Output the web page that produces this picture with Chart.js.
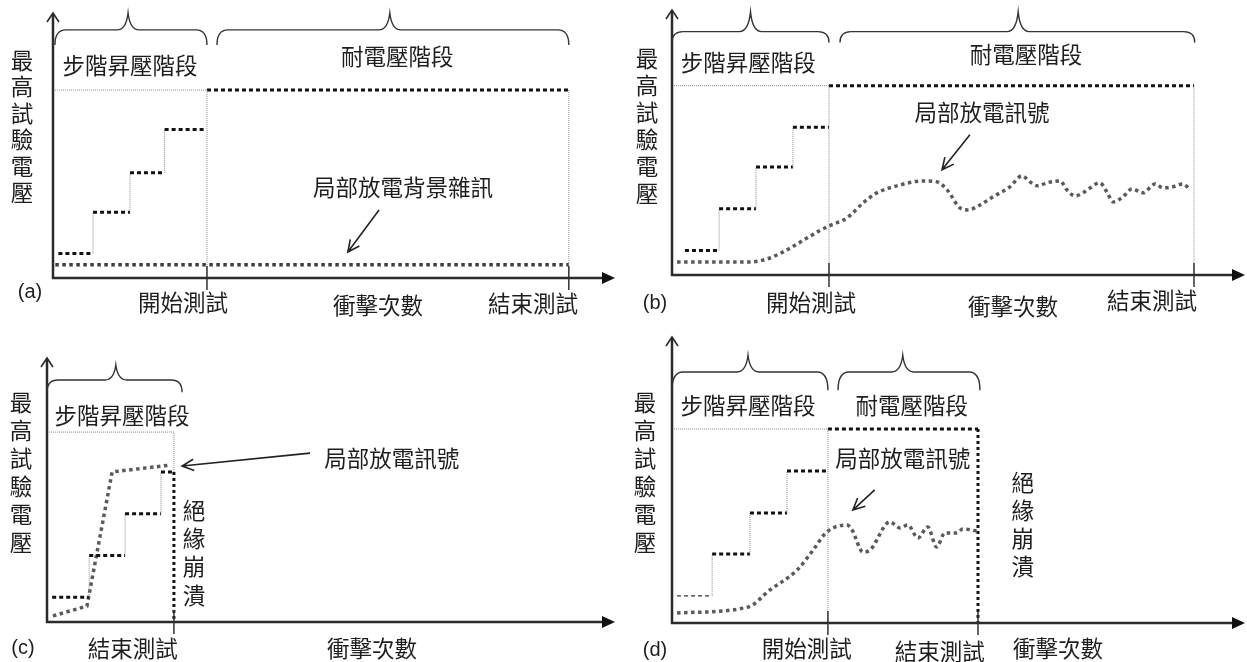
<!DOCTYPE html>
<html>
<head>
<meta charset="utf-8">
<script src="https://cdn.jsdelivr.net/npm/chart.js@4.4.1/dist/chart.umd.min.js"></script>
<style>
  html, body { margin: 0; padding: 0; background: #fff; }
  #wrap { position: relative; width: 1247px; height: 662px; overflow: hidden; background: #fff; }
  #wrap canvas { position: absolute; }
</style>
</head>
<body>
<div id="wrap">
  <canvas id="pa"></canvas>
  <canvas id="pb"></canvas>
  <canvas id="pc"></canvas>
  <canvas id="pd"></canvas>
</div>
<script>
// Voltage is given in % of the maximum test voltage; x is impulse count (arbitrary units).

// (a) no partial discharge, background noise only
const aSteps = [[1.4,13],[10.4,13],[10.4,35],[20,35],[20,56],[29,56],[29,79],[39.5,79]];
const aTest  = [[40,100],[134,100]];
const aGuide = [[0,100],[40,100],[40,0]];
const aEndGuide = [[134,100],[134,0]];
const aNoise = [[0.6,7],[134,7]];

// (b) partial discharge appears, insulation survives
const bSteps = [[3.3,13],[12,13],[12,35],[21.4,35],[21.4,57],[30.8,57],[30.8,78],[40,78]];
const bTest  = [[40,100],[133,100]];
const bGuide = [[0,100],[40,100],[40,0]];
const bEndGuide = [[133,100],[133,0]];
const bSignal = [[1.3,6.9],[19.9,6.9],[40,25.9],[44.6,30.2],[48.7,38.1],[52.2,43.4],[57.3,47.1],
  [63.9,49.7],[67.5,49.2],[70.1,45],[73.4,35.4],[75.4,34.4],[78.5,37],[81.8,41.3],[86.1,46.6],
  [89.2,52.4],[91.2,49.2],[93.2,47.1],[95.5,48.7],[98.9,49.7],[100.6,45],[102.7,41.8],[104.7,43.4],
  [106.5,46],[109,48.7],[110.8,43.9],[112.4,38.6],[114.9,41.3],[117.2,45.5],[120,43.4],[123.1,48.1],
  [125.1,46],[127.6,46.6],[130.2,48.1],[132,45]];

// (c) breakdown during the step-up stage
const cSteps = [[1.4,13],[11.4,13],[11.4,35],[21.1,35],[21.1,57],[30.8,57],[30.8,79],[34.3,79]];
const cGuide = [[0,100],[34.3,100],[34.3,79]];
const cBreak = [[34.3,79],[34.3,0]];
const cSignal = [[1.6,3.2],[10.8,8.4],[17.6,79],[33.2,82.6]];

// (d) breakdown during the withstand stage
const dSteps = [[1.3,14],[10.3,14],[10.3,35.6],[20,35.6],[20,56.7],[29.5,56.7],[29.5,78.4],[39.5,78.4]];
const dTest  = [[40,100],[78.5,100]];
const dGuide = [[0,100],[40,100],[40,0]];
const dBreak = [[78.5,100],[78.5,0]];
const dSignal = [[1.3,5.2],[19.5,8.2],[25.1,17],[32.1,27.3],[36.2,37.6],[39.7,46.9],[44.9,50.5],
  [46.2,47.9],[49,36.6],[50.8,37.6],[55.9,52.1],[58.5,49],[60.5,50.5],[63.1,43.8],[65.6,49.5],
  [67.9,39.2],[70,46.4],[73.1,46.4],[74.6,48.5],[78.2,47.4]];

// Text
const yTitle = '最高試驗電壓';
const stepStage = '步階昇壓階段';
const holdStage = '耐電壓階段';
const pdText = '局部放電訊號';
const noiseText = '局部放電背景雜訊';
const breakdownText = '絕緣崩潰';
const startText = '開始測試';
const endText = '結束測試';
const countText = '衝擊次數';

const CJK = '22.5px "Noto Sans CJK TC", "Noto Sans CJK SC", sans-serif';
const LATIN = '20px "Liberation Sans", Arial, sans-serif';
const INK = '#1e1e1e';

const panels = [
  {
    id: 'pa', left: 0, top: 0, width: 620, height: 330,
    pad: { left: 53, right: 5, top: 13, bottom: 52 }, xMax: 146, yMax: 141,
    guides: [aGuide, aEndGuide], steps: aSteps, test: aTest, brk: null,
    signal: aNoise, signalColor: '#3e3e3e', smooth: false,
    ticks: [aTest[0][0], aTest[1][0]],
    braces: [{ x1: 0.5, x2: 40, pk: 19.5, top: 141, body: 132, end: 124 },
             { x1: 42.6, x2: 134, pk: 87.5, top: 141, body: 132, end: 124 }],
    notes: [{ t: stepStage, x: 20, y: 113 }, { t: holdStage, x: 89.4, y: 118 }, { t: noiseText, x: 90.9, y: 48 }],
    arrows: [{ x1: 84.7, y1: 36.2, x2: 76.6, y2: 13.8 }],
    vnote: null,
    axisLabels: [{ t: startText, x: 33.8, dy: 24 }, { t: countText, x: 84.4, dy: 27 }, { t: endText, x: 124.7, dy: 25 }],
    tag: { t: '(a)', x: 30, y: 292 }, title: { x: 22, y: 60, step: 26.5 }
  },
  {
    id: 'pb', left: 620, top: 0, width: 627, height: 330,
    pad: { left: 52, right: 2, top: 10, bottom: 55 }, xMax: 146, yMax: 140,
    guides: [bGuide, bEndGuide], steps: bSteps, test: bTest, brk: null,
    signal: bSignal, signalColor: '#5a5a5a', smooth: true,
    ticks: [bTest[0][0], bTest[1][0]],
    braces: [{ x1: 0, x2: 40, pk: 20, top: 139, body: 128.6, end: 122.8 },
             { x1: 42.8, x2: 133.2, pk: 88.2, top: 139, body: 128.6, end: 122.8 }],
    notes: [{ t: stepStage, x: 19.4, y: 112.2 }, { t: holdStage, x: 90.2, y: 116.4 }, { t: pdText, x: 79, y: 85.7 }],
    arrows: [{ x1: 75.9, y1: 74.1, x2: 68.8, y2: 55.6 }],
    vnote: null,
    axisLabels: [{ t: startText, x: 35.4, dy: 27 }, { t: countText, x: 86.9, dy: 31 }, { t: endText, x: 122.3, dy: 25 }],
    tag: { t: '(b)', x: 35, y: 303 }, title: { x: 27, y: 58, step: 27 }
  },
  {
    id: 'pc', left: 0, top: 330, width: 620, height: 332,
    pad: { left: 47, right: 5, top: 28, bottom: 40 }, xMax: 153.5, yMax: 139,
    guides: [cGuide], steps: cSteps, test: null, brk: cBreak,
    signal: cSignal, signalColor: '#5a5a5a', smooth: false,
    ticks: [cBreak[0][0]],
    braces: [{ x1: 0, x2: 36.5, pk: 18.6, top: 135.3, body: 127.4, end: 121 }],
    notes: [{ t: stepStage, x: 20.3, y: 109 }, { t: pdText, x: 93.2, y: 86.3 }],
    arrows: [{ x1: 71.1, y1: 88.9, x2: 36.5, y2: 82.1 }],
    vnote: { t: breakdownText, x: 39.7, y: 58.9, step: 28.3 },
    axisLabels: [{ t: endText, x: 23.2, dy: 26 }, { t: countText, x: 87.8, dy: 26 }],
    tag: { t: '(c)', x: 23, y: 318 }, title: { x: 21, y: 72, step: 28 }
  },
  {
    id: 'pd', left: 620, top: 330, width: 627, height: 332,
    pad: { left: 52, right: 2, top: 7, bottom: 39 }, xMax: 147, yMax: 147.4,
    guides: [dGuide], steps: dSteps, test: dTest, brk: dBreak,
    signal: dSignal, signalColor: '#5a5a5a', smooth: true,
    thinFirstStep: true,
    ticks: [dTest[0][0], dTest[1][0]],
    braces: [{ x1: 0, x2: 40, pk: 19.5, top: 138, body: 129.4, end: 120 },
             { x1: 42.6, x2: 79, pk: 59.2, top: 138, body: 129.4, end: 120 }],
    notes: [{ t: stepStage, x: 19.5, y: 111.9 }, { t: holdStage, x: 61.5, y: 111.9 }, { t: pdText, x: 59.2, y: 85 }],
    arrows: [{ x1: 52, y1: 68.6, x2: 46.4, y2: 58.2 }],
    vnote: { t: breakdownText, x: 90, y: 72.2, step: 28 },
    axisLabels: [{ t: startText, x: 34.6, dy: 25 }, { t: endText, x: 68.7, dy: 28 }, { t: countText, x: 99, dy: 25 }],
    tag: { t: '(d)', x: 35, y: 320 }, title: { x: 25, y: 72, step: 28 }
  }
];

function pts(arr) { return arr.map(([x, y]) => ({ x, y })); }

function lineSet(arr, o) {
  return Object.assign({
    data: pts(arr), pointRadius: 0, pointHoverRadius: 0, fill: false, tension: 0,
    clip: false, borderCapStyle: 'butt', spanGaps: false
  }, o);
}

function stepSegment(thinFirst) {
  const vert = c => Math.abs(c.p0.x - c.p1.x) < 0.5;
  const first = c => thinFirst && c.p0DataIndex === 0;
  return {
    borderWidth: c => vert(c) ? 1 : (first(c) ? 1.4 : 3),
    borderDash: c => vert(c) ? [1, 1] : [4, 3],
    borderColor: c => vert(c) ? '#8a8a8a' : (first(c) ? '#333' : '#111')
  };
}

function drawBrace(ctx, X, Y, b) {
  const x1 = X(b.x1), x2 = X(b.x2), pk = X(b.pk);
  const yt = Y(b.top), yb = Y(b.body), ye = Y(b.end);
  const r = 11;
  ctx.beginPath();
  ctx.moveTo(x1, ye);
  ctx.quadraticCurveTo(x1, yb, x1 + r, yb);
  ctx.lineTo(pk - r, yb);
  ctx.quadraticCurveTo(pk - 2, yb, pk, yt);
  ctx.quadraticCurveTo(pk + 2, yb, pk + r, yb);
  ctx.lineTo(x2 - r, yb);
  ctx.quadraticCurveTo(x2, yb, x2, ye);
  ctx.stroke();
}

function drawArrow(ctx, x1, y1, x2, y2) {
  const a = Math.atan2(y2 - y1, x2 - x1), h = 13, w = 0.45;
  ctx.beginPath();
  ctx.moveTo(x1, y1); ctx.lineTo(x2, y2);
  ctx.moveTo(x2 - h * Math.cos(a - w), y2 - h * Math.sin(a - w));
  ctx.lineTo(x2, y2);
  ctx.lineTo(x2 - h * Math.cos(a + w), y2 - h * Math.sin(a + w));
  ctx.stroke();
}

function decorate(chart, p) {
  const ctx = chart.ctx, ca = chart.chartArea;
  const X = v => chart.scales.x.getPixelForValue(v);
  const Y = v => chart.scales.y.getPixelForValue(v);
  ctx.save();

  // axes
  ctx.strokeStyle = '#2b2b2b';
  ctx.lineWidth = 2.5;
  ctx.beginPath(); ctx.moveTo(ca.left, ca.bottom + 1); ctx.lineTo(ca.left, ca.top + 1); ctx.stroke();
  ctx.beginPath(); ctx.moveTo(ca.left - 1, ca.bottom); ctx.lineTo(ca.right - 10, ca.bottom); ctx.stroke();
  ctx.lineWidth = 1.6;
  ctx.beginPath();
  ctx.moveTo(ca.left - 6, ca.top + 9); ctx.lineTo(ca.left, ca.top); ctx.lineTo(ca.left + 6, ca.top + 9);
  ctx.stroke();
  ctx.fillStyle = '#111';
  ctx.beginPath();
  ctx.moveTo(ca.right, ca.bottom); ctx.lineTo(ca.right - 13, ca.bottom - 6); ctx.lineTo(ca.right - 13, ca.bottom + 6);
  ctx.closePath(); ctx.fill();

  // ticks marking start / end of the test
  ctx.strokeStyle = '#333'; ctx.lineWidth = 1.5;
  p.ticks.forEach(t => {
    ctx.beginPath(); ctx.moveTo(X(t), ca.bottom - 12); ctx.lineTo(X(t), ca.bottom + 12); ctx.stroke();
  });

  // stage braces
  ctx.strokeStyle = '#333'; ctx.lineWidth = 1.4;
  p.braces.forEach(b => drawBrace(ctx, X, Y, b));

  // pointer arrows
  ctx.strokeStyle = '#222'; ctx.lineWidth = 1.6;
  p.arrows.forEach(a => drawArrow(ctx, X(a.x1), Y(a.y1), X(a.x2), Y(a.y2)));

  // text
  ctx.fillStyle = INK;
  ctx.font = CJK;
  ctx.textAlign = 'center';
  ctx.textBaseline = 'middle';
  p.notes.forEach(n => ctx.fillText(n.t, X(n.x), Y(n.y)));
  p.axisLabels.forEach(l => ctx.fillText(l.t, X(l.x), ca.bottom + l.dy));
  if (p.vnote) {
    [...p.vnote.t].forEach((ch, i) => ctx.fillText(ch, X(p.vnote.x), Y(p.vnote.y) + i * p.vnote.step));
  }
  [...yTitle].forEach((ch, i) => ctx.fillText(ch, p.title.x, p.title.y + i * p.title.step));
  ctx.font = LATIN;
  ctx.fillText(p.tag.t, p.tag.x, p.tag.y);
  ctx.restore();
}

function build() {
  panels.forEach(p => {
    const cv = document.getElementById(p.id);
    cv.width = p.width; cv.height = p.height;
    cv.style.left = p.left + 'px'; cv.style.top = p.top + 'px';
    cv.style.width = p.width + 'px'; cv.style.height = p.height + 'px';

    const ds = [];
    p.guides.forEach(g => ds.push(lineSet(g, { borderColor: '#8a8a8a', borderWidth: 1, borderDash: [1, 1] })));
    ds.push(lineSet(p.steps, { segment: stepSegment(!!p.thinFirstStep), borderColor: '#111', borderWidth: 3 }));
    if (p.test) ds.push(lineSet(p.test, { borderColor: '#111', borderWidth: 3, borderDash: [4, 3] }));
    if (p.brk) ds.push(lineSet(p.brk, { borderColor: '#111', borderWidth: 3, borderDash: [3, 3] }));
    const sig = { borderColor: p.signalColor, borderWidth: 3.5, borderDash: [3.5, 3.5] };
    if (p.smooth) sig.cubicInterpolationMode = 'monotone';
    ds.push(lineSet(p.signal, sig));

    new Chart(cv, {
      type: 'line',
      data: { datasets: ds },
      options: {
        responsive: false,
        maintainAspectRatio: false,
        devicePixelRatio: 1,
        animation: false,
        events: [],
        layout: { padding: p.pad },
        scales: {
          x: { type: 'linear', min: 0, max: p.xMax, display: false },
          y: { type: 'linear', min: 0, max: p.yMax, display: false }
        },
        plugins: { legend: { display: false }, tooltip: { enabled: false }, title: { display: false } }
      },
      plugins: [{ id: 'decor_' + p.id, afterDraw: chart => decorate(chart, p) }]
    });
  });
}

if (document.fonts && document.fonts.load) {
  document.fonts.load(CJK, yTitle).then(build, build);
} else {
  build();
}
</script>
</body>
</html>
